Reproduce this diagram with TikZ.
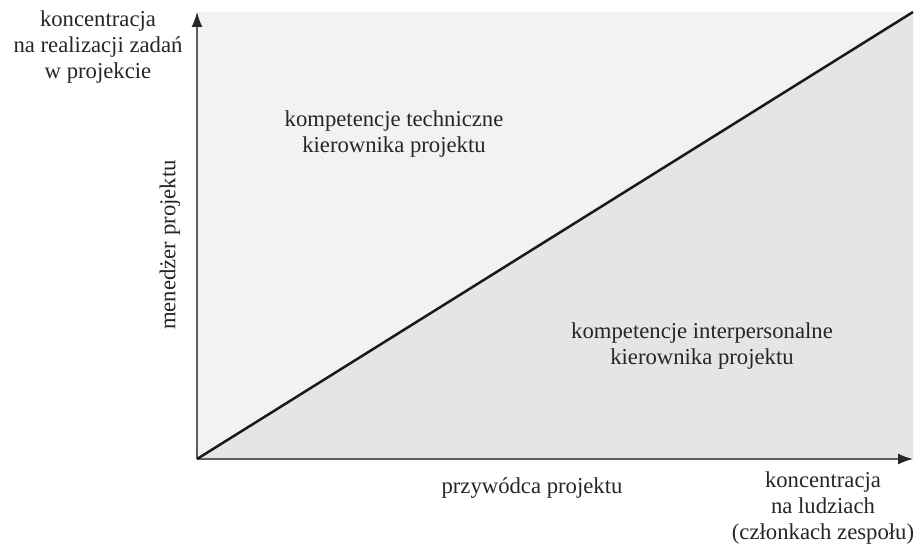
\documentclass[tikz,border=0pt]{standalone}
\usepackage{fontspec}
\setmainfont{Liberation Serif}
\usepackage{tikz}
\usetikzlibrary{positioning, arrows.meta}
\definecolor{lightfield}{RGB}{241,242,244}
\definecolor{darkfield}{RGB}{228,229,231}
\definecolor{axisgray}{RGB}{95,95,95}
\tikzstyle{Axis} = [
	line width=1.5pt, draw=axisgray,
	-{Latex[length=15pt, width=11pt, color=black!85]}
	]
\tikzstyle{Label} = [
	align=center, inner sep=0pt, text=black!85,
	font=\fontsize{22.7}{26}\selectfont
	]
\begin{document}
\begin{tikzpicture}[x=1pt, y=-1pt]
	\useasboundingbox (0,0) rectangle (915,551);
	%corners:
		\coordinate (o) at (197,459);
		\coordinate (ytop) at (197,12);
		\coordinate (xend) at (913,459);
		\coordinate (corner) at (913,12);
	%fields:
		\fill[lightfield] (o) -- (ytop) -- (corner) -- cycle;
		\fill[darkfield] (o) -- (corner) -- (xend) -- cycle;
	%nodes:
		\node [Label] (tasks) at (98,47) {koncentracja\\na realizacji zadań\\w projekcie};
		\node [Label, rotate=90] (manager) at (170,245) {menedżer projektu};
		\node [Label] (technical) at (394,134) {kompetencje techniczne\\kierownika projektu};
		\node [Label] (interpersonal) at (702,346) {kompetencje interpersonalne\\kierownika projektu};
		\node [Label] (leader) at (532,488) {przywódca projektu};
		\node [Label] (people) at (823,508) {koncentracja\\na ludziach\\(członkach zespołu)};
	%edges:
		\draw[Axis] (o) -- (ytop);
		\draw[Axis] (o) -- (xend);
		\draw[line width=2.5pt, black!90] (o) -- (corner);
\end{tikzpicture}
\end{document}
